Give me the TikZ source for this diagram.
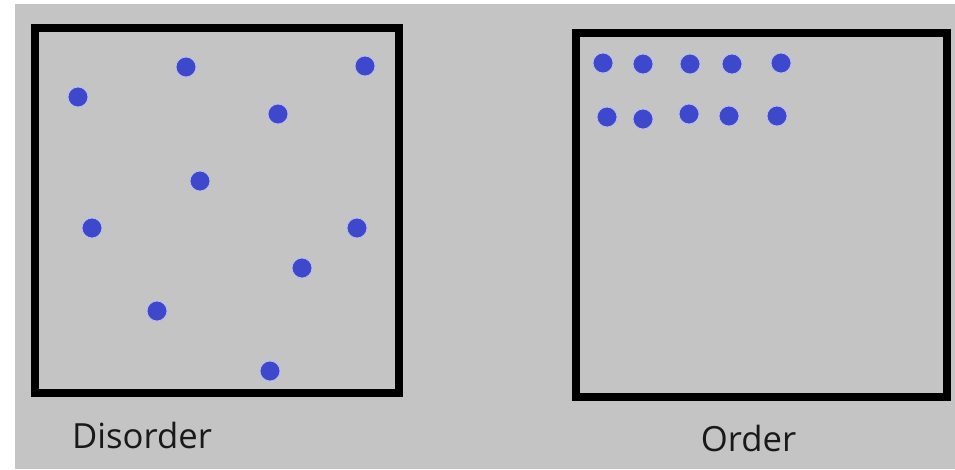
\documentclass[tikz,border=0pt]{standalone}
\usepackage{fontspec}
\setmainfont{Open Sans}
\usetikzlibrary{positioning}

\definecolor{panelgrey}{RGB}{196,196,196}
\definecolor{dotblue}{RGB}{62,72,204}

\begin{document}
\begin{tikzpicture}[
  x=0.75pt, y=-0.75pt,
  box/.style={draw=black, line width=6pt, minimum width=#1*0.75pt, inner sep=0pt},
  particle/.style={circle, fill=dotblue, draw=dotblue!35!white, line width=0.6pt,
    minimum size=15pt, inner sep=0pt},
  lbl/.style={font=\fontsize{26}{30}\selectfont, text=black!90, anchor=base, inner sep=0pt}
]

  % --- Fond ---
  \fill[white] (0,0) rectangle (955,469);
  \fill[panelgrey] (15,4) rectangle (955,469);
  \useasboundingbox (0,0) rectangle (955,469);

  % --- Boites ---
  \node[box=364.5, minimum height=365*0.75pt] (disbox) at (216.75,210.5) {};
  \node[box=370.5, minimum height=364*0.75pt] (ordbox) at (761.25,214.5) {};

  % --- Particules en desordre ---
  \foreach \px/\py [count=\i] in {78/97, 186/67, 365/66, 278/114, 200/181,
      92/228, 357/228, 302/268, 157/311, 270/371}
    \node[particle] (d\i) at (\px,\py) {};

  % --- Particules en ordre ---
  \foreach \px/\py [count=\i] in {603/63, 643/64, 690/64, 732/64, 781/63,
      607/117, 643/119, 689/114, 729/116, 777/116}
    \node[particle] (o\i) at (\px,\py) {};

  % --- Etiquettes ---
  \node[lbl] (dislbl) at (142,448) {Disorder};
  \node[lbl] (ordlbl) at (748.5,451.5) {Order};

\end{tikzpicture}
\end{document}
